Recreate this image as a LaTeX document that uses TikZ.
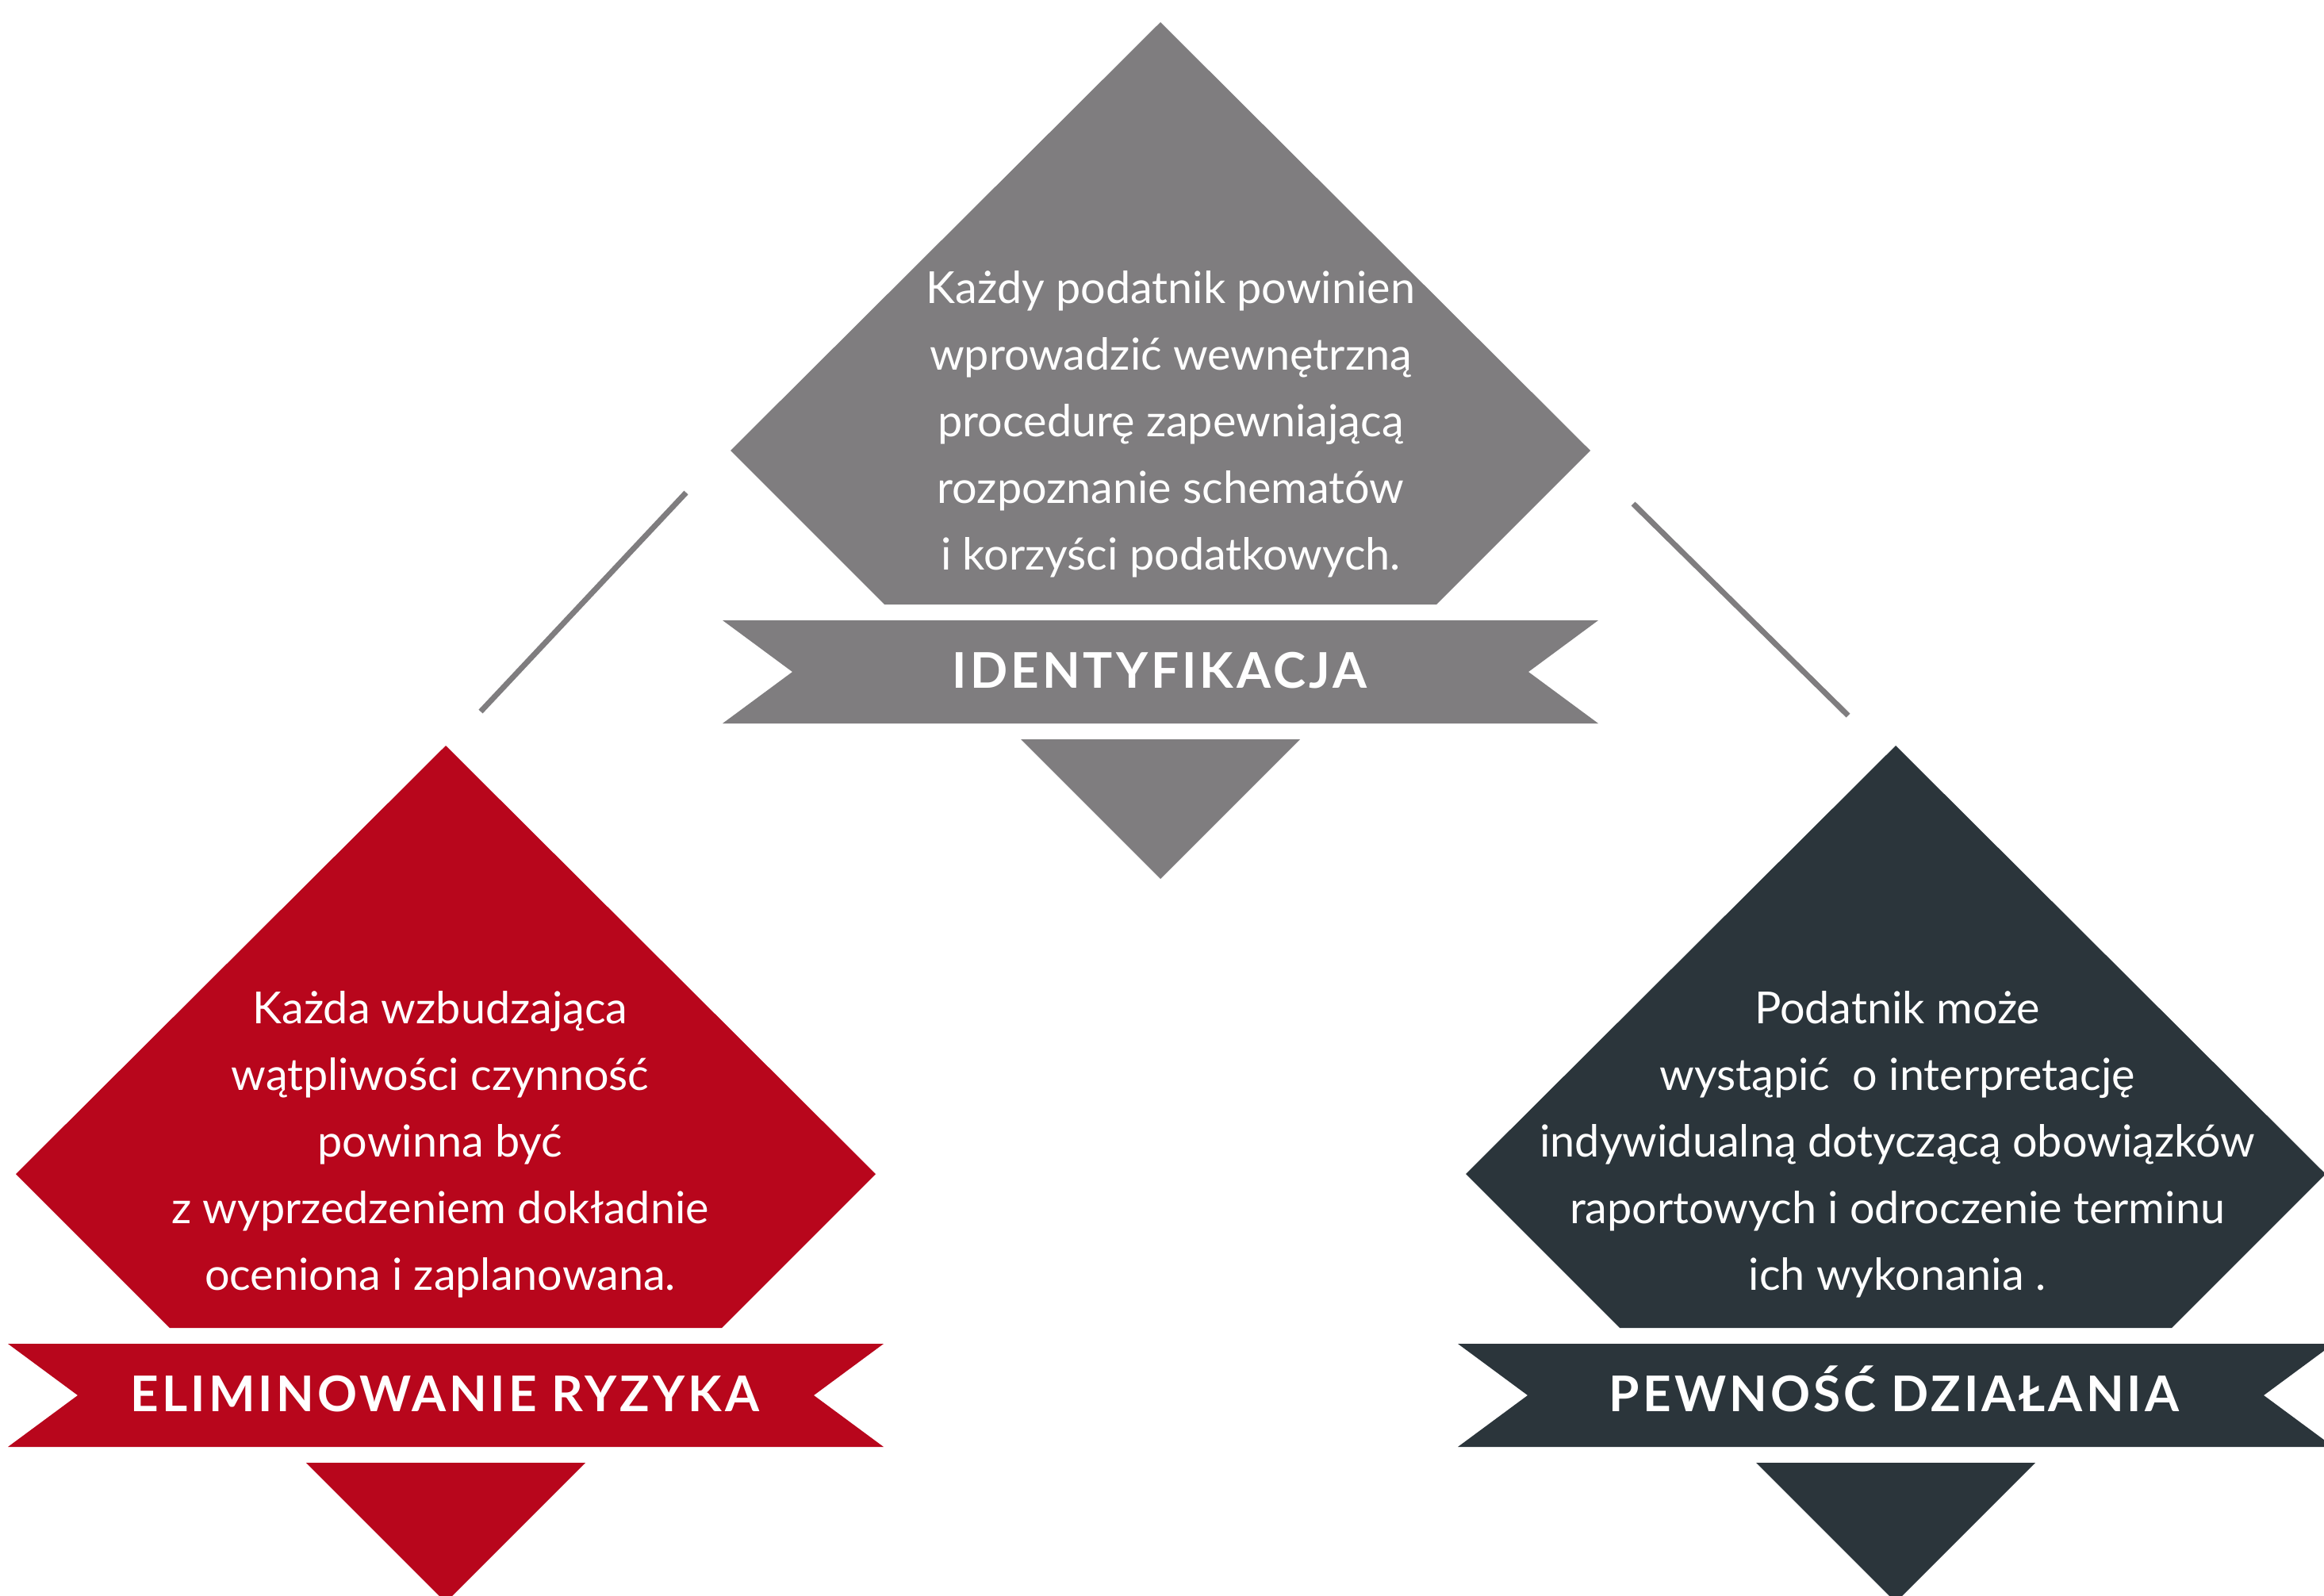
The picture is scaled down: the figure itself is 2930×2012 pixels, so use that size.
\documentclass[tikz,border=0pt]{standalone}
\usepackage{fontspec}
\setmainfont{Lato}
\definecolor{cgray}{HTML}{7F7D7F}
\definecolor{cred}{HTML}{B8061C}
\definecolor{cdark}{HTML}{2B353B}
\newcommand\drawmodule[3]{%
  \fill[#3] (#1,#2) -- (#1+542,#2+540) -- (#1+348,#2+734) -- (#1-348,#2+734) -- (#1-542,#2+540) -- cycle;
  \fill[#3] (#1-552,#2+754) -- (#1+552,#2+754) -- (#1+464,#2+819) -- (#1+552,#2+884)
            -- (#1-552,#2+884) -- (#1-464,#2+819) -- cycle;
  \fill[#3] (#1-176,#2+904) -- (#1+176,#2+904) -- (#1,#2+1080) -- cycle;
}
\begin{document}
\begin{tikzpicture}[x=1pt,y=-1pt,
  bodytext/.style={text=white, font=\fontsize{55.7}{66}\selectfont, anchor=base, inner sep=0pt},
  ribbontext/.style={text=white, font=\fontsize{62}{70}\selectfont\bfseries\addfontfeature{LetterSpace=6.5}, anchor=base, inner sep=0pt},
  link/.style={draw=cgray, line width=7pt}]
\useasboundingbox (0,0) rectangle (2930,2012);
\clip (0,0) rectangle (2930,2012);
\fill[white] (0,0) rectangle (2930,2012);

\drawmodule{1463}{28}{cgray}
\drawmodule{562}{940}{cred}
\drawmodule{2390}{940}{cdark}

% top text
\node[bodytext] (t1) at (1476,382) {Każdy podatnik powinien};
\node[bodytext] (t2) at (1476,466) {wprowadzić wewnętrzną};
\node[bodytext] (t3) at (1476,550) {procedurę zapewniającą};
\node[bodytext] (t4) at (1476,634) {rozpoznanie schematów};
\node[bodytext] (t5) at (1476,718) {i korzyści podatkowych.};
\node[ribbontext] (tl) at (1462,867) {IDENTYFIKACJA};

% left text
\node[bodytext] (a1) at (555,1290) {Każda wzbudzająca};
\node[bodytext] (a2) at (555,1374) {wątpliwości czynność};
\node[bodytext] (a3) at (555,1458) {powinna być};
\node[bodytext] (a4) at (555,1542) {z wyprzedzeniem dokładnie};
\node[bodytext] (a5) at (555,1626) {oceniona i zaplanowana.};
\node[ribbontext] (al) at (561,1779) {ELIMINOWANIE RYZYKA};

% right text
\node[bodytext] (b1) at (2392,1290) {Podatnik może};
\node[bodytext] (b2) at (2392,1374) {wystąpić\ \ o interpretację};
\node[bodytext] (b3) at (2392,1458) {indywidualną dotyczącą obowiązków};
\node[bodytext] (b4) at (2392,1542) {raportowych i odroczenie terminu};
\node[bodytext] (b5) at (2392,1626) {ich wykonania .};
\node[ribbontext] (bl) at (2388,1779) {PEWNOŚĆ DZIAŁANIA};

% connectors
\coordinate (l1) at (865,621);
\coordinate (l2) at (606,897);
\coordinate (r1) at (2059,635);
\coordinate (r2) at (2330,902);
\draw[link] (l1) -- (l2);
\draw[link] (r1) -- (r2);
\end{tikzpicture}
\end{document}
